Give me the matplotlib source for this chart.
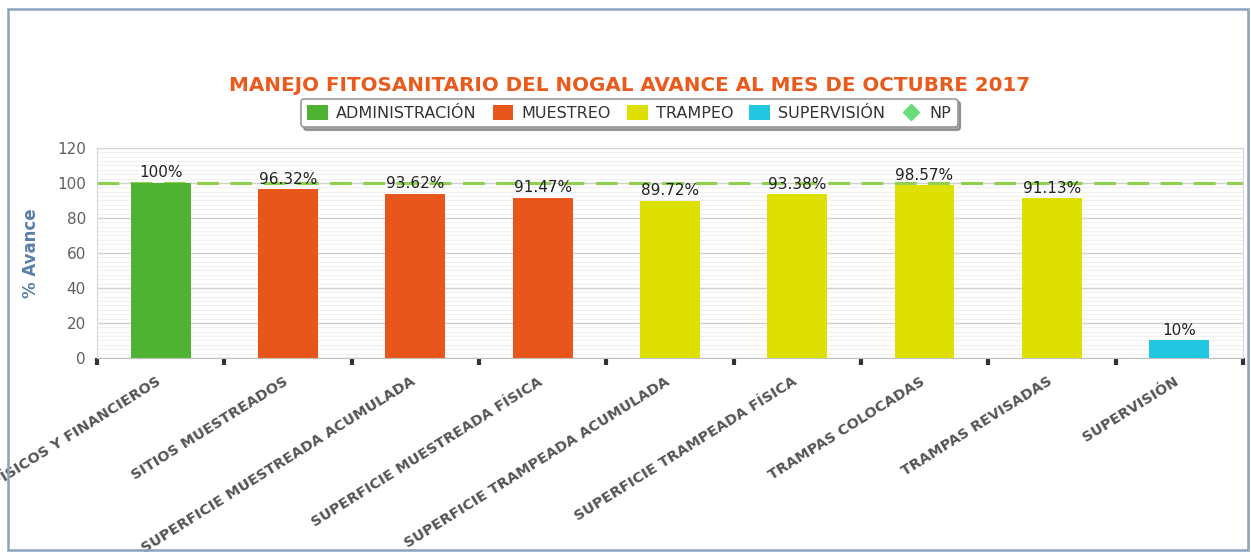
import matplotlib.pyplot as plt
import matplotlib.transforms as mtransforms
from matplotlib.patches import Patch, Rectangle
from matplotlib.lines import Line2D
from matplotlib.ticker import MultipleLocator

categories = ['RECURSOS FÍSICOS Y FINANCIEROS', 'SITIOS MUESTREADOS',
              'SUPERFICIE MUESTREADA ACUMULADA', 'SUPERFICIE MUESTREADA FÍSICA',
              'SUPERFICIE TRAMPEADA ACUMULADA', 'SUPERFICIE TRAMPEADA FÍSICA',
              'TRAMPAS COLOCADAS', 'TRAMPAS REVISADAS', 'SUPERVISIÓN']
values = [100, 96.32, 93.62, 91.47, 89.72, 93.38, 98.57, 91.13, 10]
labels = ['100%', '96.32%', '93.62%', '91.47%', '89.72%', '93.38%', '98.57%', '91.13%', '10%']
groups = ['ADMINISTRACIÓN', 'MUESTREO', 'MUESTREO', 'MUESTREO',
          'TRAMPEO', 'TRAMPEO', 'TRAMPEO', 'TRAMPEO', 'SUPERVISIÓN']
group_names = ['ADMINISTRACIÓN', 'MUESTREO', 'TRAMPEO', 'SUPERVISIÓN']
group_colors = {'ADMINISTRACIÓN': '#4fb233', 'MUESTREO': '#e9561b',
                'TRAMPEO': '#dde000', 'SUPERVISIÓN': '#22c6e0'}
np_value = 100

fig = plt.figure(figsize=(12.51, 5.54), dpi=100)
ax = fig.add_axes([0.0775, 0.354, 0.916, 0.379])

x = list(range(len(categories)))
ax.bar(x, values, width=0.47, color=[group_colors[g] for g in groups], zorder=3)
ax.axhline(np_value, color='#8fd14f', lw=2.3, dashes=(6.8, 3.6), zorder=2)

for xi, v, lab in zip(x, values, labels):
    ax.text(xi, v + 1.5, lab, ha='center', va='bottom', fontsize=11,
            color='#222222', zorder=4)

ax.set_xlim(-0.5, len(categories) - 0.5)
ax.set_ylim(0, 120)
ax.yaxis.set_major_locator(MultipleLocator(20))
ax.yaxis.set_minor_locator(MultipleLocator(2.5))
ax.grid(axis='y', which='major', color='#d0d0d0', lw=1, zorder=0)
ax.grid(axis='y', which='minor', color='#f0f0f0', lw=0.8, zorder=0)
ax.tick_params(axis='y', which='both', length=0, labelsize=11, labelcolor='#606060', pad=8)

ax.set_xticks([i - 0.5 for i in range(len(categories) + 1)], minor=False)
ax.set_xticklabels([])
ax.tick_params(axis='x', which='major', length=5, width=3, color='#333333', direction='out')
ax.set_xticks(x, minor=True)
ax.set_xticklabels(categories, minor=True, rotation=32, ha='right', rotation_mode='anchor',
                   fontsize=10.4, fontweight='bold', color='#555555')
ax.tick_params(axis='x', which='minor', length=0, pad=12)
shift = mtransforms.ScaledTranslation(-5 / 100, 0, fig.dpi_scale_trans)
for t in ax.get_xticklabels(minor=True):
    t.set_transform(t.get_transform() + shift)

for s in ['top', 'right', 'left']:
    ax.spines[s].set_color('#d8d8d8')
ax.spines['bottom'].set_color('#c0c0c0')

ax.set_ylabel('% Avance', fontsize=12, fontweight='bold', color='#5a7fa8', labelpad=12)

fig.text(0.503, 0.845, 'MANEJO FITOSANITARIO DEL NOGAL AVANCE AL MES DE OCTUBRE 2017',
         ha='center', va='center', fontsize=14.3, fontweight='bold', color='#ea5a1c')

handles = [Patch(facecolor=group_colors[g], edgecolor='none') for g in group_names]
handles.append(Line2D([], [], marker='D', color='none', markerfacecolor='#66dd77',
                      markeredgecolor='none', markersize=9))
leg = fig.legend(handles, group_names + ['NP'], loc='center', bbox_to_anchor=(0.503, 0.796),
                 ncol=5, frameon=True, fancybox=True, shadow=True, fontsize=11.5,
                 handlelength=1.3, handleheight=1.1, handletextpad=0.5, columnspacing=1.0,
                 borderpad=0.4, labelcolor='#333333')
leg.get_frame().set_edgecolor('#999999')
leg.get_frame().set_linewidth(1.2)

fig.patches.append(Rectangle((8 / 1251, 4 / 554), 1240 / 1251, 541 / 554,
                             transform=fig.transFigure, fill=False,
                             edgecolor='#8da2bd', lw=1.8))

fig.savefig('out.png', dpi=100)
